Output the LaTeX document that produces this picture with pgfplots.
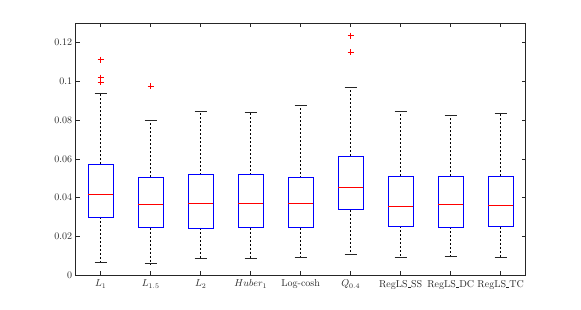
\documentclass[border=0pt]{standalone}
\usepackage{pgfplots}
\pgfplotsset{compat=1.18}
\definecolor{axgray}{gray}{0.15}
\newcommand{\us}{\leavevmode\kern.02em\vbox{\hrule width .3em}\kern.02em}
\begin{document}
\begin{tikzpicture}
\begin{axis}[
  scale only axis, width=450pt, height=251.7pt,
  at={(0,0)}, anchor=south west,
  xmin=0.5, xmax=9.5, ymin=0, ymax=0.13,
  xtick={1,2,3,4,5,6,7,8,9},
  xticklabels={$L_1$,$L_{1.5}$,$L_2$,$Huber_1$,Log-cosh,$Q_{0.4}$,RegLS\us SS,RegLS\us DC,RegLS\us TC},
  ytick={0,0.02,0.04,0.06,0.08,0.1,0.12},
  scaled y ticks=false,
  yticklabel style={/pgf/number format/fixed,/pgf/number format/precision=2},
  xticklabel style={yshift=-1.5pt},
  axis line style={axgray, line width=0.5pt},
  tick style={axgray, line width=0.5pt},
  tick align=inside,
  major tick length=4pt,
  ticklabel style={text=axgray, font=\fontsize{10}{12}\selectfont},
  unbounded coords=jump,
]
% whiskers (dashed): quartile to whisker end
\addplot[black, dash pattern=on 2pt off 2pt, line width=0.5pt, no marks] coordinates {
 (1,0.0572)(1,0.0941)(1,nan)(1,0.0300)(1,0.0065)(1,nan)
 (2,0.0505)(2,0.0799)(2,nan)(2,0.0245)(2,0.0058)(2,nan)
 (3,0.0519)(3,0.0846)(3,nan)(3,0.0243)(3,0.0087)(3,nan)
 (4,0.0519)(4,0.0842)(4,nan)(4,0.0245)(4,0.0086)(4,nan)
 (5,0.0502)(5,0.0877)(5,nan)(5,0.0245)(5,0.0089)(5,nan)
 (6,0.0615)(6,0.0969)(6,nan)(6,0.0337)(6,0.0106)(6,nan)
 (7,0.0512)(7,0.0846)(7,nan)(7,0.0253)(7,0.0091)(7,nan)
 (8,0.0510)(8,0.0827)(8,nan)(8,0.0247)(8,0.0098)(8,nan)
 (9,0.0510)(9,0.0834)(9,nan)(9,0.0250)(9,0.0094)
};
% whisker caps
\addplot[black!85, line width=0.6pt, no marks] coordinates {
 (0.88,0.0941)(1.12,0.0941)(1,nan)(0.88,0.0065)(1.12,0.0065)(1,nan)
 (1.88,0.0799)(2.12,0.0799)(2,nan)(1.88,0.0058)(2.12,0.0058)(2,nan)
 (2.88,0.0846)(3.12,0.0846)(3,nan)(2.88,0.0087)(3.12,0.0087)(3,nan)
 (3.88,0.0842)(4.12,0.0842)(4,nan)(3.88,0.0086)(4.12,0.0086)(4,nan)
 (4.88,0.0877)(5.12,0.0877)(5,nan)(4.88,0.0089)(5.12,0.0089)(5,nan)
 (5.88,0.0969)(6.12,0.0969)(6,nan)(5.88,0.0106)(6.12,0.0106)(6,nan)
 (6.88,0.0846)(7.12,0.0846)(7,nan)(6.88,0.0091)(7.12,0.0091)(7,nan)
 (7.88,0.0827)(8.12,0.0827)(8,nan)(7.88,0.0098)(8.12,0.0098)(8,nan)
 (8.88,0.0834)(9.12,0.0834)(9,nan)(8.88,0.0094)(9.12,0.0094)
};
% boxes (lower to upper quartile)
\addplot[blue, line width=0.7pt, no marks] coordinates {
 (0.75,0.0300)(1.25,0.0300)(1.25,0.0572)(0.75,0.0572)(0.75,0.0300)(1,nan)
 (1.75,0.0245)(2.25,0.0245)(2.25,0.0505)(1.75,0.0505)(1.75,0.0245)(2,nan)
 (2.75,0.0243)(3.25,0.0243)(3.25,0.0519)(2.75,0.0519)(2.75,0.0243)(3,nan)
 (3.75,0.0245)(4.25,0.0245)(4.25,0.0519)(3.75,0.0519)(3.75,0.0245)(4,nan)
 (4.75,0.0245)(5.25,0.0245)(5.25,0.0502)(4.75,0.0502)(4.75,0.0245)(5,nan)
 (5.75,0.0337)(6.25,0.0337)(6.25,0.0615)(5.75,0.0615)(5.75,0.0337)(6,nan)
 (6.75,0.0253)(7.25,0.0253)(7.25,0.0512)(6.75,0.0512)(6.75,0.0253)(7,nan)
 (7.75,0.0247)(8.25,0.0247)(8.25,0.0510)(7.75,0.0510)(7.75,0.0247)(8,nan)
 (8.75,0.0250)(9.25,0.0250)(9.25,0.0510)(8.75,0.0510)(8.75,0.0250)
};
% medians
\addplot[red, line width=0.7pt, no marks] coordinates {
 (0.75,0.0418)(1.25,0.0418)(1,nan)
 (1.75,0.0363)(2.25,0.0363)(2,nan)
 (2.75,0.0371)(3.25,0.0371)(3,nan)
 (3.75,0.0368)(4.25,0.0368)(4,nan)
 (4.75,0.0368)(5.25,0.0368)(5,nan)
 (5.75,0.0452)(6.25,0.0452)(6,nan)
 (6.75,0.0353)(7.25,0.0353)(7,nan)
 (7.75,0.0363)(8.25,0.0363)(8,nan)
 (8.75,0.0358)(9.25,0.0358)
};
% outliers
\addplot[only marks, mark=+, mark size=3pt, red, line width=0.5pt] coordinates {
 (1,0.1113)(1,0.1020)(1,0.0996)
 (2,0.0974)
 (6,0.1236)(6,0.1150)
};
\end{axis}
\path (-75.7pt,-34pt) rectangle (505.3pt,275pt);
\end{tikzpicture}
\end{document}
